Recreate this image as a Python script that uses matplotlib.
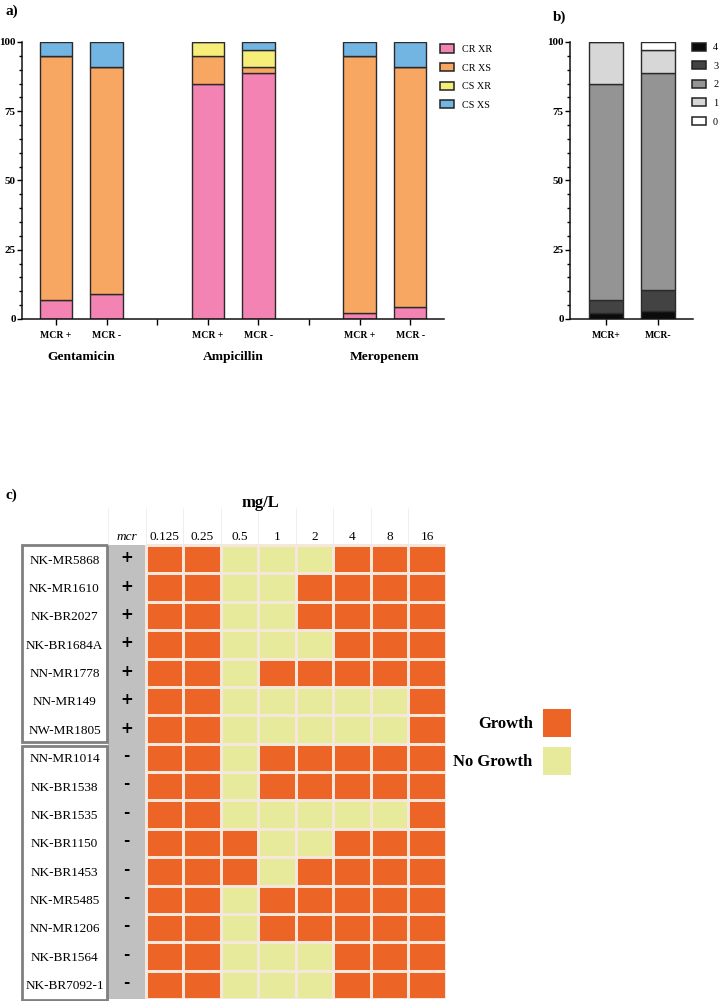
import matplotlib
matplotlib.use('Agg')
import matplotlib.pyplot as plt
import numpy as np
from matplotlib.patches import Patch, Rectangle
from matplotlib.colors import ListedColormap
from matplotlib.ticker import MultipleLocator

plt.rcParams['font.family'] = ['Liberation Serif', 'DejaVu Serif']

# ---------------- data ----------------
# panel a
a_groups = ['Gentamicin', 'Ampicillin', 'Meropenem']
a_tick_labels = ['MCR +', 'MCR -', '', 'MCR +', 'MCR -', '', 'MCR +', 'MCR -']
a_positions = [0, 1, 3, 4, 6, 7]
a_series = ['CR XR', 'CR XS', 'CS XR', 'CS XS']
a_colors = ['#F283B3', '#F8A763', '#F7EE7A', '#72B5E3']
cr_xr = [7, 9, 85, 88.7, 2, 4.5]
cr_xs = [88, 82, 10, 2.3, 93, 86.5]
cs_xr = [0, 0, 5, 6, 0, 0]
cs_xs = [5, 9, 0, 3, 5, 9]

# panel b
b_labels = ['MCR+', 'MCR-']
b_series = ['4', '3', '2', '1', '0']
b_colors = ['#0B0B0B', '#434343', '#949494', '#D7D7D7', '#FFFFFF']
n4 = [2, 3]
n3 = [5, 7.5]
n2 = [78, 78.2]
n1 = [15, 8.3]
n0 = [0, 3]

# panel c
conc = ['0.125', '0.25', '0.5', '1', '2', '4', '8', '16']
strains = ['NK-MR5868', 'NK-MR1610', 'NK-BR2027', 'NK-BR1684A', 'NN-MR1778',
           'NN-MR149', 'NW-MR1805', 'NN-MR1014', 'NK-BR1538', 'NK-BR1535',
           'NK-BR1150', 'NK-BR1453', 'NK-MR5485', 'NN-MR1206', 'NK-BR1564',
           'NK-BR7092-1']
mcr = ['+'] * 7 + ['-'] * 9
growth = [
    [1, 1, 0, 0, 0, 1, 1, 1],
    [1, 1, 0, 0, 1, 1, 1, 1],
    [1, 1, 0, 0, 1, 1, 1, 1],
    [1, 1, 0, 0, 0, 1, 1, 1],
    [1, 1, 0, 1, 1, 1, 1, 1],
    [1, 1, 0, 0, 0, 0, 0, 1],
    [1, 1, 0, 0, 0, 0, 0, 1],
    [1, 1, 0, 1, 1, 1, 1, 1],
    [1, 1, 0, 1, 1, 1, 1, 1],
    [1, 1, 0, 0, 0, 0, 0, 1],
    [1, 1, 1, 0, 0, 1, 1, 1],
    [1, 1, 1, 0, 1, 1, 1, 1],
    [1, 1, 0, 1, 1, 1, 1, 1],
    [1, 1, 0, 1, 1, 1, 1, 1],
    [1, 1, 0, 0, 0, 1, 1, 1],
    [1, 1, 0, 0, 0, 1, 1, 1],
]
growth_labels = ['Growth', 'No Growth']
c_orange = '#EC6527'
c_yellow = '#E7E99B'
c_gray = '#C0C0C0'

# ---------------- figure ----------------
W, H = 721, 1001
fig = plt.figure(figsize=(W / 100, H / 100), dpi=100)


def px_axes(x0, y0, x1, y1):
    return fig.add_axes([x0 / W, 1 - y1 / H, (x1 - x0) / W, (y1 - y0) / H])


def style_bar_axes(ax):
    for s in ['top', 'right']:
        ax.spines[s].set_visible(False)
    for s in ['left', 'bottom']:
        ax.spines[s].set_linewidth(1.1)
        ax.spines[s].set_color('#111111')
    ax.set_ylim(0, 100)
    ax.yaxis.set_major_locator(MultipleLocator(25))
    ax.yaxis.set_minor_locator(MultipleLocator(5))
    ax.tick_params(axis='y', which='major', length=3.5, width=1.0, pad=1, labelsize=8)
    ax.tick_params(axis='y', which='minor', length=2.3, width=1.0)
    ax.tick_params(axis='x', which='major', length=4.3, width=1.0, pad=4, labelsize=7)
    for lab in ax.get_yticklabels() + ax.get_xticklabels():
        lab.set_fontweight('bold')


# ---- panel a ----
axa = px_axes(22, 42, 444, 319)
bottom = np.zeros(len(a_positions))
for vals, col, name in zip([cr_xr, cr_xs, cs_xr, cs_xs], a_colors, a_series):
    axa.bar(a_positions, vals, bottom=bottom, width=0.64, color=col,
            edgecolor='#2A2A2A', linewidth=1.0, label=name)
    bottom += np.array(vals)
axa.set_xlim(-0.672, 7.67)
axa.set_xticks(range(8))
axa.set_xticklabels(a_tick_labels)
style_bar_axes(axa)
for i, g in enumerate(a_groups):
    axa.text(a_positions[2 * i] + 0.5, -0.137, g, transform=axa.get_xaxis_transform(),
             ha='center', va='center', fontsize=9.7, fontweight='bold')
axa.legend(handles=[Patch(facecolor=c, edgecolor='#222222', linewidth=1.1) for c in a_colors],
           labels=a_series, loc='upper left', bbox_to_anchor=(440 / W, 1 - 44.5 / H),
           bbox_transform=fig.transFigure, frameon=False, fontsize=7.3,
           handlelength=1.38, handleheight=0.84, handletextpad=0.8,
           labelspacing=0.9, borderpad=0, borderaxespad=0)

# ---- panel b ----
axb = px_axes(570, 42, 693, 319)
bottom = np.zeros(2)
for vals, col, name in zip([n4, n3, n2, n1, n0], b_colors, b_series):
    axb.bar([0, 1], vals, bottom=bottom, width=0.64, color=col,
            edgecolor='#2A2A2A', linewidth=1.0, label=name)
    bottom += np.array(vals)
axb.set_xlim(-0.69, 1.67)
axb.set_xticks([0, 1])
axb.set_xticklabels(b_labels)
style_bar_axes(axb)
axb.legend(handles=[Patch(facecolor=c, edgecolor='#222222', linewidth=1.1) for c in b_colors],
           labels=b_series, loc='upper left', bbox_to_anchor=(692 / W, 1 - 42.5 / H),
           bbox_transform=fig.transFigure, frameon=False, fontsize=7.3,
           handlelength=1.38, handleheight=0.84, handletextpad=0.7,
           labelspacing=0.9, borderpad=0, borderaxespad=0)

# ---- panel c ----
nrows = len(strains)
row_px = (999 - 545) / nrows
head = (545 - 508) / row_px
axc = px_axes(108, 508, 446, 999)
axc.set_xlim(-1, len(conc))
axc.set_ylim(nrows, -head)
axc.axis('off')
axc.vlines(np.arange(-1, len(conc) + 1), -head, 0, color='#EBEBEB', linewidth=0.6)
axc.pcolormesh([-1, 0], np.arange(nrows + 1), np.zeros((nrows, 1)),
               cmap=ListedColormap([c_gray]), vmin=0, vmax=1)
axc.pcolormesh(np.arange(len(conc) + 1), np.arange(nrows + 1), np.array(growth),
               cmap=ListedColormap([c_yellow, c_orange]), vmin=0, vmax=1,
               edgecolors='#F6E7DC', linewidth=1.0)
# headers
axc.text(-0.5, -0.27, 'mcr', ha='center', va='center', fontsize=9.5, style='italic')
for j, c in enumerate(conc):
    axc.text(j + 0.5, -0.27, c, ha='center', va='center', fontsize=9.5)
axc.text(3.05, -1.48, 'mg/L', ha='center', va='center', fontsize=12, fontweight='bold')
# name boxes
for y0, y1 in [(0, 6.93), (7.08, 16.05)]:
    axc.add_patch(Rectangle((-3.29, y0), 2.26, y1 - y0, facecolor='white',
                            edgecolor='#808080', linewidth=2.0, clip_on=False))
for i, (s, m) in enumerate(zip(strains, mcr)):
    axc.text(-2.16, i + 0.55, s, ha='center', va='center', fontsize=9.5, clip_on=False)
    axc.text(-0.5, i + (0.45 if m == '+' else 0.42), m, ha='center', va='center',
             fontsize=11, fontweight='bold', family='DejaVu Sans')

fig.legend(handles=[Patch(facecolor=c_orange, edgecolor='none'),
                    Patch(facecolor=c_yellow, edgecolor='none')],
           labels=growth_labels, loc='upper right',
           bbox_to_anchor=(571 / W, 1 - 709 / H), bbox_transform=fig.transFigure,
           frameon=False, markerfirst=False,
           prop={'size': 12, 'weight': 'bold'},
           handlelength=1.68, handleheight=2.21, handletextpad=0.62,
           labelspacing=0.57, borderpad=0, borderaxespad=0)

# panel letters
fig.text(6 / W, 1 - 11 / H, 'a)', fontsize=11, fontweight='bold', va='center', ha='left')
fig.text(553 / W, 1 - 17 / H, 'b)', fontsize=11, fontweight='bold', va='center', ha='left')
fig.text(6 / W, 1 - 495 / H, 'c)', fontsize=11, fontweight='bold', va='center', ha='left')

fig.savefig('out.png', dpi=100)
